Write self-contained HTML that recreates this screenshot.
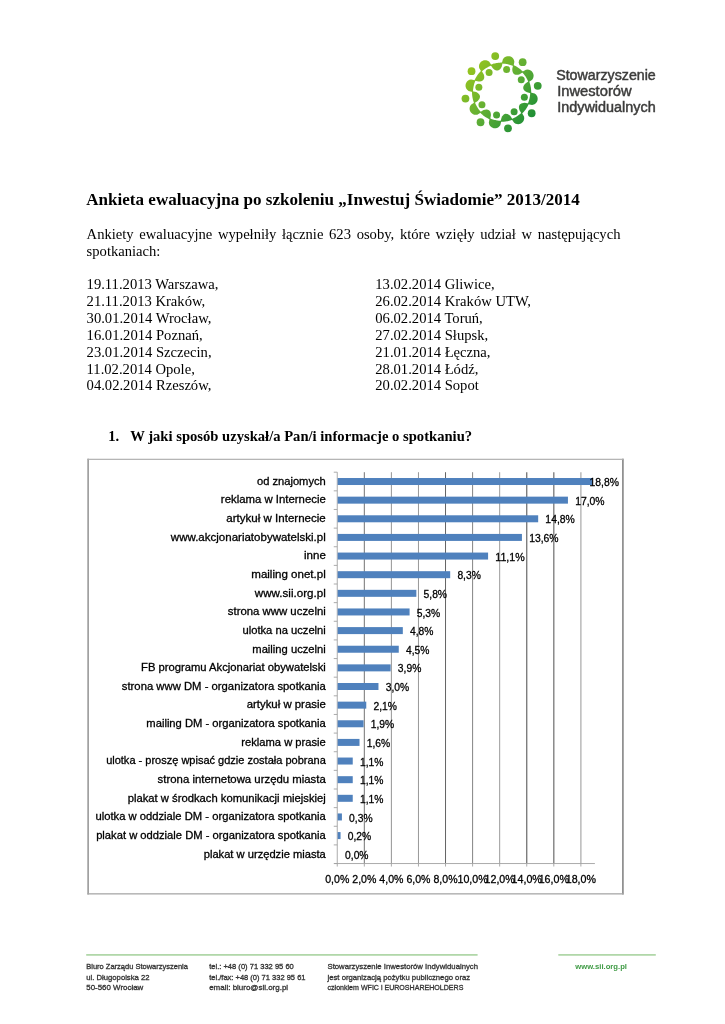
<!DOCTYPE html>
<html lang="pl"><head><meta charset="utf-8"><title>Ankieta ewaluacyjna</title>
<style>
html,body{margin:0;padding:0;background:#fff}
body{width:725px;height:1024px;overflow:hidden;position:relative}
svg{position:absolute;left:0;top:0;display:block}
.s{font-family:"Liberation Serif",serif;font-size:14.62px;fill:#000}
.sb{font-family:"Liberation Serif",serif;font-size:14.62px;font-weight:bold;fill:#000}
.t{font-family:"Liberation Serif",serif;font-size:17.06px;font-weight:bold;fill:#000}
.c{font-family:"Liberation Sans",sans-serif;font-size:11.3px;fill:#000;stroke:#000;stroke-width:0.3px}
.f{font-family:"Liberation Sans",sans-serif;font-size:8.1px;fill:#333;stroke:#333;stroke-width:0.32px}
.fg{font-family:"Liberation Sans",sans-serif;font-size:8.1px;font-weight:bold;fill:#3f9b45}
.lg{font-family:"Liberation Sans",sans-serif;font-size:14px;fill:#3c3c3b;stroke:#3c3c3b;stroke-width:0.45px}
</style></head><body>
<svg width="725" height="1024" viewBox="0 0 725 1024">
<rect width="725" height="1024" fill="#fff"/>
<defs><linearGradient id="lgd" gradientUnits="userSpaceOnUse" x1="470" y1="62" x2="536" y2="120"><stop offset="0" stop-color="#9ac61c"/><stop offset="0.5" stop-color="#5fae35"/><stop offset="1" stop-color="#198c36"/></linearGradient></defs>
<g fill="url(#lgd)">
<circle cx="495.23" cy="56.06" r="3.9"/>
<path d="M490.73 65.20 L492.81 68.33 L493.94 69.32 L494.87 69.92 L495.69 70.30 L496.43 70.51 L497.12 70.59 L497.78 70.53 L498.42 70.36 L499.04 70.05 L499.67 69.60 L500.31 68.96 L500.98 68.08 L501.70 66.76 L502.58 63.12 L502.59 62.62 L501.71 62.60 L500.83 62.61 L499.96 62.65 L499.08 62.71 L498.20 62.80 L497.33 62.91 L496.46 63.05 L495.60 63.22 L494.74 63.41 L493.88 63.62 L493.04 63.87 L492.20 64.13 L491.37 64.42 L490.55 64.74Z"/>
<circle cx="506.64" cy="69.45" r="3.5"/>
<path d="M501.89 63.10 L502.91 59.16 L504.00 57.79 L505.11 56.96 L506.24 56.44 L507.36 56.18 L508.48 56.13 L509.56 56.27 L510.61 56.60 L511.60 57.12 L512.51 57.83 L513.31 58.77 L513.97 60.01 L514.37 61.70 L513.63 65.70 L513.43 66.16 L512.65 65.82 L511.86 65.50 L511.06 65.21 L510.25 64.94 L509.44 64.70 L508.62 64.47 L507.79 64.28 L506.96 64.11 L506.12 63.96 L505.28 63.84 L504.43 63.74 L503.59 63.67 L502.74 63.62 L501.89 63.60Z"/>
<circle cx="522.65" cy="62.14" r="3.9"/>
<path d="M513.01 65.43 L512.26 69.10 L512.36 70.60 L512.59 71.69 L512.90 72.53 L513.28 73.21 L513.72 73.75 L514.22 74.18 L514.79 74.50 L515.45 74.73 L516.22 74.85 L517.12 74.85 L518.22 74.70 L519.66 74.28 L522.86 72.33 L523.22 71.98 L522.61 71.35 L521.98 70.74 L521.33 70.14 L520.67 69.56 L519.99 69.00 L519.29 68.47 L518.58 67.95 L517.85 67.46 L517.11 66.99 L516.35 66.54 L515.58 66.11 L514.80 65.71 L514.01 65.33 L513.20 64.97Z"/>
<circle cx="521.25" cy="79.68" r="3.5"/>
<path d="M522.38 71.83 L525.89 69.77 L527.62 69.57 L529.00 69.76 L530.16 70.19 L531.15 70.81 L531.97 71.56 L532.64 72.43 L533.14 73.40 L533.48 74.46 L533.62 75.61 L533.52 76.85 L533.11 78.18 L532.20 79.66 L528.84 81.97 L528.38 82.15 L528.07 81.36 L527.73 80.58 L527.37 79.80 L526.99 79.04 L526.59 78.29 L526.17 77.56 L525.72 76.83 L525.25 76.12 L524.77 75.43 L524.26 74.75 L523.73 74.08 L523.18 73.43 L522.61 72.80 L522.03 72.18Z"/>
<circle cx="537.74" cy="85.83" r="3.9"/>
<path d="M528.60 81.33 L525.47 83.41 L524.48 84.54 L523.88 85.47 L523.50 86.29 L523.29 87.03 L523.21 87.72 L523.27 88.38 L523.44 89.02 L523.75 89.64 L524.20 90.27 L524.84 90.91 L525.72 91.58 L527.04 92.30 L530.68 93.18 L531.18 93.19 L531.20 92.31 L531.19 91.43 L531.15 90.56 L531.09 89.68 L531.00 88.80 L530.89 87.93 L530.75 87.06 L530.58 86.20 L530.39 85.34 L530.18 84.48 L529.93 83.64 L529.67 82.80 L529.38 81.97 L529.06 81.15Z"/>
<circle cx="524.35" cy="97.24" r="3.5"/>
<path d="M530.70 92.49 L534.64 93.51 L536.01 94.60 L536.84 95.71 L537.36 96.84 L537.62 97.96 L537.67 99.08 L537.53 100.16 L537.20 101.21 L536.68 102.20 L535.97 103.11 L535.03 103.91 L533.79 104.57 L532.10 104.97 L528.10 104.23 L527.64 104.03 L527.98 103.25 L528.30 102.46 L528.59 101.66 L528.86 100.85 L529.10 100.04 L529.33 99.22 L529.52 98.39 L529.69 97.56 L529.84 96.72 L529.96 95.88 L530.06 95.03 L530.13 94.19 L530.18 93.34 L530.20 92.49Z"/>
<circle cx="531.66" cy="113.25" r="3.9"/>
<path d="M528.37 103.61 L524.70 102.86 L523.20 102.96 L522.11 103.19 L521.27 103.50 L520.59 103.88 L520.05 104.32 L519.62 104.82 L519.30 105.39 L519.07 106.05 L518.95 106.82 L518.95 107.72 L519.10 108.82 L519.52 110.26 L521.47 113.46 L521.82 113.82 L522.45 113.21 L523.06 112.58 L523.66 111.93 L524.24 111.27 L524.80 110.59 L525.33 109.89 L525.85 109.18 L526.34 108.45 L526.81 107.71 L527.26 106.95 L527.69 106.18 L528.09 105.40 L528.47 104.61 L528.83 103.80Z"/>
<circle cx="514.12" cy="111.85" r="3.5"/>
<path d="M521.97 112.98 L524.03 116.49 L524.23 118.22 L524.04 119.60 L523.61 120.76 L522.99 121.75 L522.24 122.57 L521.37 123.24 L520.40 123.74 L519.34 124.08 L518.19 124.22 L516.95 124.12 L515.62 123.71 L514.14 122.80 L511.83 119.44 L511.65 118.98 L512.44 118.67 L513.22 118.33 L514.00 117.97 L514.76 117.59 L515.51 117.19 L516.24 116.77 L516.97 116.32 L517.68 115.85 L518.37 115.37 L519.05 114.86 L519.72 114.33 L520.37 113.78 L521.00 113.21 L521.62 112.63Z"/>
<circle cx="507.97" cy="128.34" r="3.9"/>
<path d="M512.47 119.20 L510.39 116.07 L509.26 115.08 L508.33 114.48 L507.51 114.10 L506.77 113.89 L506.08 113.81 L505.42 113.87 L504.78 114.04 L504.16 114.35 L503.53 114.80 L502.89 115.44 L502.22 116.32 L501.50 117.64 L500.62 121.28 L500.61 121.78 L501.49 121.80 L502.37 121.79 L503.24 121.75 L504.12 121.69 L505.00 121.60 L505.87 121.49 L506.74 121.35 L507.60 121.18 L508.46 120.99 L509.32 120.78 L510.16 120.53 L511.00 120.27 L511.83 119.98 L512.65 119.66Z"/>
<circle cx="496.56" cy="114.95" r="3.5"/>
<path d="M501.31 121.30 L500.29 125.24 L499.20 126.61 L498.09 127.44 L496.96 127.96 L495.84 128.22 L494.72 128.27 L493.64 128.13 L492.59 127.80 L491.60 127.28 L490.69 126.57 L489.89 125.63 L489.23 124.39 L488.83 122.70 L489.57 118.70 L489.77 118.24 L490.55 118.58 L491.34 118.90 L492.14 119.19 L492.95 119.46 L493.76 119.70 L494.58 119.93 L495.41 120.12 L496.24 120.29 L497.08 120.44 L497.92 120.56 L498.77 120.66 L499.61 120.73 L500.46 120.78 L501.31 120.80Z"/>
<circle cx="480.55" cy="122.26" r="3.9"/>
<path d="M490.19 118.97 L490.94 115.30 L490.84 113.80 L490.61 112.71 L490.30 111.87 L489.92 111.19 L489.48 110.65 L488.98 110.22 L488.41 109.90 L487.75 109.67 L486.98 109.55 L486.08 109.55 L484.98 109.70 L483.54 110.12 L480.34 112.07 L479.98 112.42 L480.59 113.05 L481.22 113.66 L481.87 114.26 L482.53 114.84 L483.21 115.40 L483.91 115.93 L484.62 116.45 L485.35 116.94 L486.09 117.41 L486.85 117.86 L487.62 118.29 L488.40 118.69 L489.19 119.07 L490.00 119.43Z"/>
<circle cx="481.95" cy="104.72" r="3.5"/>
<path d="M480.82 112.57 L477.31 114.63 L475.58 114.83 L474.20 114.64 L473.04 114.21 L472.05 113.59 L471.23 112.84 L470.56 111.97 L470.06 111.00 L469.72 109.94 L469.58 108.79 L469.68 107.55 L470.09 106.22 L471.00 104.74 L474.36 102.43 L474.82 102.25 L475.13 103.04 L475.47 103.82 L475.83 104.60 L476.21 105.36 L476.61 106.11 L477.03 106.84 L477.48 107.57 L477.95 108.28 L478.43 108.97 L478.94 109.65 L479.47 110.32 L480.02 110.97 L480.59 111.60 L481.17 112.22Z"/>
<circle cx="465.46" cy="98.57" r="3.9"/>
<path d="M474.60 103.07 L477.73 100.99 L478.72 99.86 L479.32 98.93 L479.70 98.11 L479.91 97.37 L479.99 96.68 L479.93 96.02 L479.76 95.38 L479.45 94.76 L479.00 94.13 L478.36 93.49 L477.48 92.82 L476.16 92.10 L472.52 91.22 L472.02 91.21 L472.00 92.09 L472.01 92.97 L472.05 93.84 L472.11 94.72 L472.20 95.60 L472.31 96.47 L472.45 97.34 L472.62 98.20 L472.81 99.06 L473.02 99.92 L473.27 100.76 L473.53 101.60 L473.82 102.43 L474.14 103.25Z"/>
<circle cx="478.85" cy="87.16" r="3.5"/>
<path d="M472.50 91.91 L468.56 90.89 L467.19 89.80 L466.36 88.69 L465.84 87.56 L465.58 86.44 L465.53 85.32 L465.67 84.24 L466.00 83.19 L466.52 82.20 L467.23 81.29 L468.17 80.49 L469.41 79.83 L471.10 79.43 L475.10 80.17 L475.56 80.37 L475.22 81.15 L474.90 81.94 L474.61 82.74 L474.34 83.55 L474.10 84.36 L473.87 85.18 L473.68 86.01 L473.51 86.84 L473.36 87.68 L473.24 88.52 L473.14 89.37 L473.07 90.21 L473.02 91.06 L473.00 91.91Z"/>
<circle cx="471.54" cy="71.15" r="3.9"/>
<path d="M474.83 80.79 L478.50 81.54 L480.00 81.44 L481.09 81.21 L481.93 80.90 L482.61 80.52 L483.15 80.08 L483.58 79.58 L483.90 79.01 L484.13 78.35 L484.25 77.58 L484.25 76.68 L484.10 75.58 L483.68 74.14 L481.73 70.94 L481.38 70.58 L480.75 71.19 L480.14 71.82 L479.54 72.47 L478.96 73.13 L478.40 73.81 L477.87 74.51 L477.35 75.22 L476.86 75.95 L476.39 76.69 L475.94 77.45 L475.51 78.22 L475.11 79.00 L474.73 79.79 L474.37 80.60Z"/>
<circle cx="489.08" cy="72.55" r="3.5"/>
<path d="M481.23 71.42 L479.17 67.91 L478.97 66.18 L479.16 64.80 L479.59 63.64 L480.21 62.65 L480.96 61.83 L481.83 61.16 L482.80 60.66 L483.86 60.32 L485.01 60.18 L486.25 60.28 L487.58 60.69 L489.06 61.60 L491.37 64.96 L491.55 65.42 L490.76 65.73 L489.98 66.07 L489.20 66.43 L488.44 66.81 L487.69 67.21 L486.96 67.63 L486.23 68.08 L485.52 68.55 L484.83 69.03 L484.15 69.54 L483.48 70.07 L482.83 70.62 L482.20 71.19 L481.58 71.77Z"/>
</g>
<text class="lg" x="556.20" y="80.20" textLength="99.60" lengthAdjust="spacingAndGlyphs">Stowarzyszenie</text>
<text class="lg" x="557.20" y="96.00" textLength="74.40" lengthAdjust="spacingAndGlyphs">Inwestorów</text>
<text class="lg" x="557.20" y="111.90" textLength="98.60" lengthAdjust="spacingAndGlyphs">Indywidualnych</text>
<text class="t" x="86.30" y="205.20">Ankieta ewaluacyjna po szkoleniu „Inwestuj Świadomie” 2013/2014</text>
<text class="s" x="86.60" y="238.50" word-spacing="2.0">Ankiety ewaluacyjne wypełniły łącznie 623 osoby, które wzięły udział w następujących</text>
<text class="s" x="86.60" y="255.60">spotkaniach:</text>
<text class="s" x="86.60" y="289.20">19.11.2013 Warszawa,</text>
<text class="s" x="375.30" y="289.20">13.02.2014 Gliwice,</text>
<text class="s" x="86.60" y="306.07">21.11.2013 Kraków,</text>
<text class="s" x="375.30" y="306.07">26.02.2014 Kraków UTW,</text>
<text class="s" x="86.60" y="322.94">30.01.2014 Wrocław,</text>
<text class="s" x="375.30" y="322.94">06.02.2014 Toruń,</text>
<text class="s" x="86.60" y="339.81">16.01.2014 Poznań,</text>
<text class="s" x="375.30" y="339.81">27.02.2014 Słupsk,</text>
<text class="s" x="86.60" y="356.68">23.01.2014 Szczecin,</text>
<text class="s" x="375.30" y="356.68">21.01.2014 Łęczna,</text>
<text class="s" x="86.60" y="373.55">11.02.2014 Opole,</text>
<text class="s" x="375.30" y="373.55">28.01.2014 Łódź,</text>
<text class="s" x="86.60" y="390.42">04.02.2014 Rzeszów,</text>
<text class="s" x="375.30" y="390.42">20.02.2014 Sopot</text>
<text class="sb" x="108.30" y="441.00">1.</text>
<text class="sb" x="130.20" y="441.00">W jaki sposób uzyskał/a Pan/i informacje o spotkaniu?</text>
<rect x="87.45" y="458.7" width="1.3" height="435.8" fill="#838383"/>
<rect x="622.1" y="458.7" width="1.6" height="435.8" fill="#858585"/>
<rect x="87.45" y="458.75" width="536.25" height="1.15" fill="#adadad"/>
<rect x="87.4" y="893.2" width="536.3" height="1.3" fill="#a8a8a8"/>
<g fill="none">
<line x1="364.32" y1="472.20" x2="364.32" y2="863.54" stroke="#747474" stroke-width="1"/>
<line x1="391.39" y1="472.20" x2="391.39" y2="863.54" stroke="#959595" stroke-width="1"/>
<line x1="418.46" y1="472.20" x2="418.46" y2="863.54" stroke="#989898" stroke-width="1"/>
<line x1="445.53" y1="472.20" x2="445.53" y2="863.54" stroke="#646464" stroke-width="1"/>
<line x1="472.60" y1="472.20" x2="472.60" y2="863.54" stroke="#848484" stroke-width="1"/>
<line x1="499.67" y1="472.20" x2="499.67" y2="863.54" stroke="#9c9c9c" stroke-width="1"/>
<line x1="526.74" y1="472.20" x2="526.74" y2="863.54" stroke="#6e6e6e" stroke-width="1.25"/>
<line x1="553.81" y1="472.20" x2="553.81" y2="863.54" stroke="#727272" stroke-width="1.25"/>
<line x1="580.88" y1="472.20" x2="580.88" y2="863.54" stroke="#b4b4b4" stroke-width="1.4"/>
</g>
<g stroke="#a2a2a2" stroke-width="0.9" fill="none">
<line x1="337.25" y1="472.20" x2="337.25" y2="866.54"/>
<line x1="334.25" y1="863.54" x2="594.88" y2="863.54"/>
<line x1="333.75" y1="472.20" x2="337.25" y2="472.20"/>
<line x1="333.75" y1="490.83" x2="337.25" y2="490.83"/>
<line x1="333.75" y1="509.47" x2="337.25" y2="509.47"/>
<line x1="333.75" y1="528.11" x2="337.25" y2="528.11"/>
<line x1="333.75" y1="546.74" x2="337.25" y2="546.74"/>
<line x1="333.75" y1="565.38" x2="337.25" y2="565.38"/>
<line x1="333.75" y1="584.01" x2="337.25" y2="584.01"/>
<line x1="333.75" y1="602.64" x2="337.25" y2="602.64"/>
<line x1="333.75" y1="621.28" x2="337.25" y2="621.28"/>
<line x1="333.75" y1="639.91" x2="337.25" y2="639.91"/>
<line x1="333.75" y1="658.55" x2="337.25" y2="658.55"/>
<line x1="333.75" y1="677.18" x2="337.25" y2="677.18"/>
<line x1="333.75" y1="695.82" x2="337.25" y2="695.82"/>
<line x1="333.75" y1="714.46" x2="337.25" y2="714.46"/>
<line x1="333.75" y1="733.09" x2="337.25" y2="733.09"/>
<line x1="333.75" y1="751.73" x2="337.25" y2="751.73"/>
<line x1="333.75" y1="770.36" x2="337.25" y2="770.36"/>
<line x1="333.75" y1="789.00" x2="337.25" y2="789.00"/>
<line x1="333.75" y1="807.63" x2="337.25" y2="807.63"/>
<line x1="333.75" y1="826.27" x2="337.25" y2="826.27"/>
<line x1="333.75" y1="844.90" x2="337.25" y2="844.90"/>
<line x1="333.75" y1="863.54" x2="337.25" y2="863.54"/>
<line x1="364.32" y1="863.54" x2="364.32" y2="866.54"/>
<line x1="391.39" y1="863.54" x2="391.39" y2="866.54"/>
<line x1="418.46" y1="863.54" x2="418.46" y2="866.54"/>
<line x1="445.53" y1="863.54" x2="445.53" y2="866.54"/>
<line x1="472.60" y1="863.54" x2="472.60" y2="866.54"/>
<line x1="499.67" y1="863.54" x2="499.67" y2="866.54"/>
<line x1="526.74" y1="863.54" x2="526.74" y2="866.54"/>
<line x1="553.81" y1="863.54" x2="553.81" y2="866.54"/>
<line x1="580.88" y1="863.54" x2="580.88" y2="866.54"/>
</g>
<g fill="#4f81bd">
<rect x="337.65" y="478.02" width="254.66" height="7.00"/>
<rect x="337.65" y="496.65" width="230.29" height="7.00"/>
<rect x="337.65" y="515.29" width="200.52" height="7.00"/>
<rect x="337.65" y="533.92" width="184.28" height="7.00"/>
<rect x="337.65" y="552.56" width="150.44" height="7.00"/>
<rect x="337.65" y="571.19" width="112.54" height="7.00"/>
<rect x="337.65" y="589.83" width="78.70" height="7.00"/>
<rect x="337.65" y="608.46" width="71.94" height="7.00"/>
<rect x="337.65" y="627.10" width="65.17" height="7.00"/>
<rect x="337.65" y="645.73" width="61.11" height="7.00"/>
<rect x="337.65" y="664.37" width="52.99" height="7.00"/>
<rect x="337.65" y="683.00" width="40.81" height="7.00"/>
<rect x="337.65" y="701.64" width="28.62" height="7.00"/>
<rect x="337.65" y="720.27" width="25.92" height="7.00"/>
<rect x="337.65" y="738.91" width="21.86" height="7.00"/>
<rect x="337.65" y="757.54" width="15.09" height="7.00"/>
<rect x="337.65" y="776.18" width="15.09" height="7.00"/>
<rect x="337.65" y="794.81" width="15.09" height="7.00"/>
<rect x="337.65" y="813.45" width="4.26" height="7.00"/>
<rect x="337.65" y="832.08" width="2.91" height="7.00"/>
</g>
<text class="c" x="256.93" y="484.82" textLength="68.87" lengthAdjust="spacingAndGlyphs">od znajomych</text>
<text class="c" x="589.51" y="486.12" textLength="29.49" lengthAdjust="spacingAndGlyphs">18,8%</text>
<text class="c" x="220.87" y="503.45" textLength="104.93" lengthAdjust="spacingAndGlyphs">reklama w Internecie</text>
<text class="c" x="575.14" y="504.75" textLength="29.49" lengthAdjust="spacingAndGlyphs">17,0%</text>
<text class="c" x="226.32" y="522.09" textLength="99.48" lengthAdjust="spacingAndGlyphs">artykuł w Internecie</text>
<text class="c" x="545.37" y="523.39" textLength="29.49" lengthAdjust="spacingAndGlyphs">14,8%</text>
<text class="c" x="170.85" y="540.72" textLength="154.95" lengthAdjust="spacingAndGlyphs">www.akcjonariatobywatelski.pl</text>
<text class="c" x="529.13" y="542.02" textLength="29.49" lengthAdjust="spacingAndGlyphs">13,6%</text>
<text class="c" x="303.99" y="559.36" textLength="21.81" lengthAdjust="spacingAndGlyphs">inne</text>
<text class="c" x="495.29" y="560.66" textLength="29.49" lengthAdjust="spacingAndGlyphs">11,1%</text>
<text class="c" x="251.26" y="577.99" textLength="74.54" lengthAdjust="spacingAndGlyphs">mailing onet.pl</text>
<text class="c" x="457.39" y="579.29" textLength="23.48" lengthAdjust="spacingAndGlyphs">8,3%</text>
<text class="c" x="254.84" y="596.63" textLength="70.96" lengthAdjust="spacingAndGlyphs">www.sii.org.pl</text>
<text class="c" x="423.55" y="597.93" textLength="23.48" lengthAdjust="spacingAndGlyphs">5,8%</text>
<text class="c" x="227.81" y="615.26" textLength="97.99" lengthAdjust="spacingAndGlyphs">strona www uczelni</text>
<text class="c" x="416.79" y="616.56" textLength="23.48" lengthAdjust="spacingAndGlyphs">5,3%</text>
<text class="c" x="242.46" y="633.90" textLength="83.34" lengthAdjust="spacingAndGlyphs">ulotka na uczelni</text>
<text class="c" x="410.02" y="635.20" textLength="23.48" lengthAdjust="spacingAndGlyphs">4,8%</text>
<text class="c" x="252.30" y="652.53" textLength="73.50" lengthAdjust="spacingAndGlyphs">mailing uczelni</text>
<text class="c" x="405.96" y="653.83" textLength="23.48" lengthAdjust="spacingAndGlyphs">4,5%</text>
<text class="c" x="141.03" y="671.17" textLength="184.77" lengthAdjust="spacingAndGlyphs">FB programu Akcjonariat obywatelski</text>
<text class="c" x="397.84" y="672.47" textLength="23.48" lengthAdjust="spacingAndGlyphs">3,9%</text>
<text class="c" x="121.84" y="689.80" textLength="203.96" lengthAdjust="spacingAndGlyphs">strona www DM - organizatora spotkania</text>
<text class="c" x="385.66" y="691.10" textLength="23.48" lengthAdjust="spacingAndGlyphs">3,0%</text>
<text class="c" x="246.69" y="708.44" textLength="79.11" lengthAdjust="spacingAndGlyphs">artykuł w prasie</text>
<text class="c" x="373.47" y="709.74" textLength="23.48" lengthAdjust="spacingAndGlyphs">2,1%</text>
<text class="c" x="146.33" y="727.07" textLength="179.47" lengthAdjust="spacingAndGlyphs">mailing DM - organizatora spotkania</text>
<text class="c" x="370.77" y="728.37" textLength="23.48" lengthAdjust="spacingAndGlyphs">1,9%</text>
<text class="c" x="241.25" y="745.71" textLength="84.55" lengthAdjust="spacingAndGlyphs">reklama w prasie</text>
<text class="c" x="366.71" y="747.01" textLength="23.48" lengthAdjust="spacingAndGlyphs">1,6%</text>
<text class="c" x="106.14" y="764.34" textLength="219.66" lengthAdjust="spacingAndGlyphs">ulotka - proszę wpisać gdzie została pobrana</text>
<text class="c" x="359.94" y="765.64" textLength="23.48" lengthAdjust="spacingAndGlyphs">1,1%</text>
<text class="c" x="157.64" y="782.98" textLength="168.16" lengthAdjust="spacingAndGlyphs">strona internetowa urzędu miasta</text>
<text class="c" x="359.94" y="784.28" textLength="23.48" lengthAdjust="spacingAndGlyphs">1,1%</text>
<text class="c" x="127.67" y="801.61" textLength="198.13" lengthAdjust="spacingAndGlyphs">plakat w środkach komunikacji miejskiej</text>
<text class="c" x="359.94" y="802.91" textLength="23.48" lengthAdjust="spacingAndGlyphs">1,1%</text>
<text class="c" x="95.44" y="820.25" textLength="230.36" lengthAdjust="spacingAndGlyphs">ulotka w oddziale DM - organizatora spotkania</text>
<text class="c" x="349.11" y="821.55" textLength="23.48" lengthAdjust="spacingAndGlyphs">0,3%</text>
<text class="c" x="96.15" y="838.88" textLength="229.65" lengthAdjust="spacingAndGlyphs">plakat w oddziale DM - organizatora spotkania</text>
<text class="c" x="347.76" y="840.18" textLength="23.48" lengthAdjust="spacingAndGlyphs">0,2%</text>
<text class="c" x="203.72" y="857.52" textLength="122.08" lengthAdjust="spacingAndGlyphs">plakat w urzędzie miasta</text>
<text class="c" x="345.05" y="858.82" textLength="23.48" lengthAdjust="spacingAndGlyphs">0,0%</text>
<text class="c" x="325.21" y="882.60" textLength="24.08" lengthAdjust="spacingAndGlyphs">0,0%</text>
<text class="c" x="352.28" y="882.60" textLength="24.08" lengthAdjust="spacingAndGlyphs">2,0%</text>
<text class="c" x="379.35" y="882.60" textLength="24.08" lengthAdjust="spacingAndGlyphs">4,0%</text>
<text class="c" x="406.42" y="882.60" textLength="24.08" lengthAdjust="spacingAndGlyphs">6,0%</text>
<text class="c" x="433.49" y="882.60" textLength="24.08" lengthAdjust="spacingAndGlyphs">8,0%</text>
<text class="c" x="457.48" y="882.60" textLength="30.25" lengthAdjust="spacingAndGlyphs">10,0%</text>
<text class="c" x="484.55" y="882.60" textLength="30.25" lengthAdjust="spacingAndGlyphs">12,0%</text>
<text class="c" x="511.62" y="882.60" textLength="30.25" lengthAdjust="spacingAndGlyphs">14,0%</text>
<text class="c" x="538.68" y="882.60" textLength="30.25" lengthAdjust="spacingAndGlyphs">16,0%</text>
<text class="c" x="565.75" y="882.60" textLength="30.25" lengthAdjust="spacingAndGlyphs">18,0%</text>
<rect x="86.2" y="954.1" width="391.4" height="1.6" fill="#a9d3a0"/>
<rect x="558.3" y="954.1" width="97.5" height="1.6" fill="#a9d3a0"/>
<text class="f" x="86.30" y="968.70" textLength="101.60" lengthAdjust="spacingAndGlyphs">Biuro Zarządu Stowarzyszenia</text>
<text class="f" x="86.30" y="979.60" textLength="63.20" lengthAdjust="spacingAndGlyphs">ul. Długopolska 22</text>
<text class="f" x="86.30" y="989.70" textLength="57.00" lengthAdjust="spacingAndGlyphs">50-560 Wrocław</text>
<text class="f" x="209.20" y="968.70" textLength="84.60" lengthAdjust="spacingAndGlyphs">tel.: +48 (0) 71 332 95 60</text>
<text class="f" x="209.20" y="979.60" textLength="96.30" lengthAdjust="spacingAndGlyphs">tel./fax: +48 (0) 71 332 95 61</text>
<text class="f" x="209.20" y="989.70" textLength="78.90" lengthAdjust="spacingAndGlyphs">email: biuro@sii.org.pl</text>
<text class="f" x="327.50" y="968.70" textLength="150.50" lengthAdjust="spacingAndGlyphs">Stowarzyszenie Inwestorów Indywidualnych</text>
<text class="f" x="327.50" y="979.60" textLength="142.60" lengthAdjust="spacingAndGlyphs">jest organizacją pożytku publicznego oraz</text>
<text class="f" x="327.50" y="989.70" textLength="135.90" lengthAdjust="spacingAndGlyphs">członkiem WFIC i EUROSHAREHOLDERS</text>
<text class="fg" x="575.20" y="968.70" textLength="51.80" lengthAdjust="spacingAndGlyphs">www.sii.org.pl</text>
</svg></body></html>
